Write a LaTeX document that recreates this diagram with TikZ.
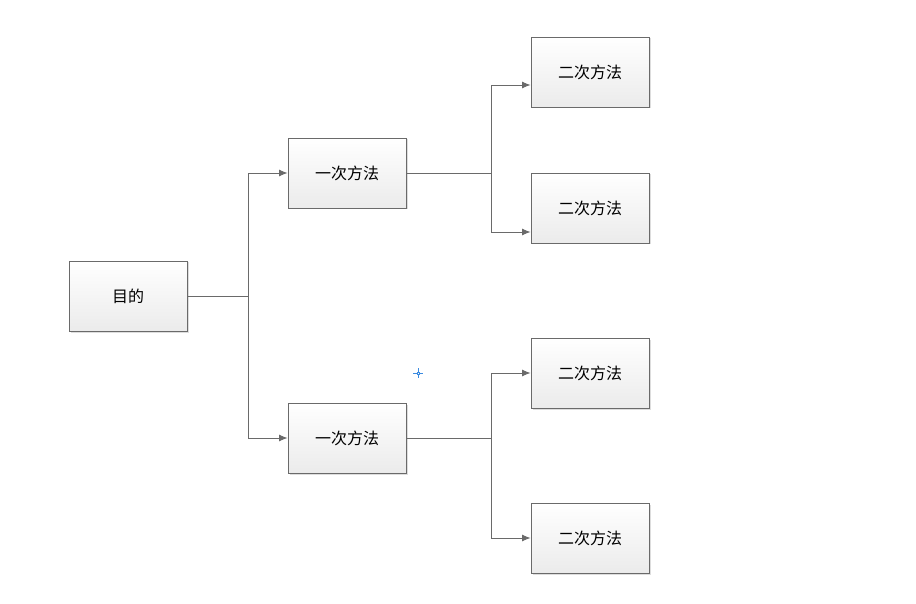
\documentclass[tikz,border=0pt]{standalone}
\usepackage{fontspec}
\setmainfont{Noto Sans CJK SC}
\usetikzlibrary{arrows.meta,shadows,calc}
\definecolor{linegray}{HTML}{6A6A6A}
\definecolor{boxtop}{HTML}{FFFFFF}
\definecolor{boxbot}{HTML}{EBEBEB}
\definecolor{cursorblue}{HTML}{3C8BE0}
\begin{document}
\begin{tikzpicture}[x=1pt,y=-1pt,
  box/.style={draw=linegray, line width=0.9pt, top color=boxtop, bottom color=boxbot,
    minimum width=118pt, minimum height=70pt, inner sep=0pt, font=\fontsize{16}{18}\selectfont,
    drop shadow={shadow xshift=1.5pt, shadow yshift=-1.5pt, fill=black!22, opacity=0.6}},
  conn/.style={draw=linegray, line width=0.9pt},
  arr/.style={conn, -{Latex[length=8.5pt,width=7pt]}}]
\useasboundingbox (0,0) rectangle (916,604);
\node[box] (root) at (128,296) {目的};
\node[box] (a1) at (347,173) {一次方法};
\node[box] (a2) at (347,438) {一次方法};
\node[box] (b1) at (590,72) {二次方法};
\node[box] (b2) at (590,208) {二次方法};
\node[box] (b3) at (590,373) {二次方法};
\node[box] (b4) at (590,538) {二次方法};
\coordinate (j0) at (248,296);
\coordinate (j1) at (491,173);
\coordinate (j2) at (491,438);
\draw[conn] (root.east) -- (j0);
\draw[arr] (j0) |- (a1.west);
\draw[arr] (j0) |- (a2.west);
\draw[conn] (a1.east) -- (j1);
\draw[arr] (j1) |- (b1.west |- 0,85);
\draw[arr] (j1) |- (b2.west |- 0,232);
\draw[conn] (a2.east) -- (j2);
\draw[arr] (j2) |- (b3.west |- 0,373);
\draw[arr] (j2) |- (b4.west);
% cursor mark
\draw[cursorblue, line width=0.8pt] (418,368) -- (418,378) (413,373) -- (423,373);
\draw[cursorblue, fill=white, line width=0.6pt] (416.8,371.8) rectangle (419.2,374.2);
\end{tikzpicture}
\end{document}
